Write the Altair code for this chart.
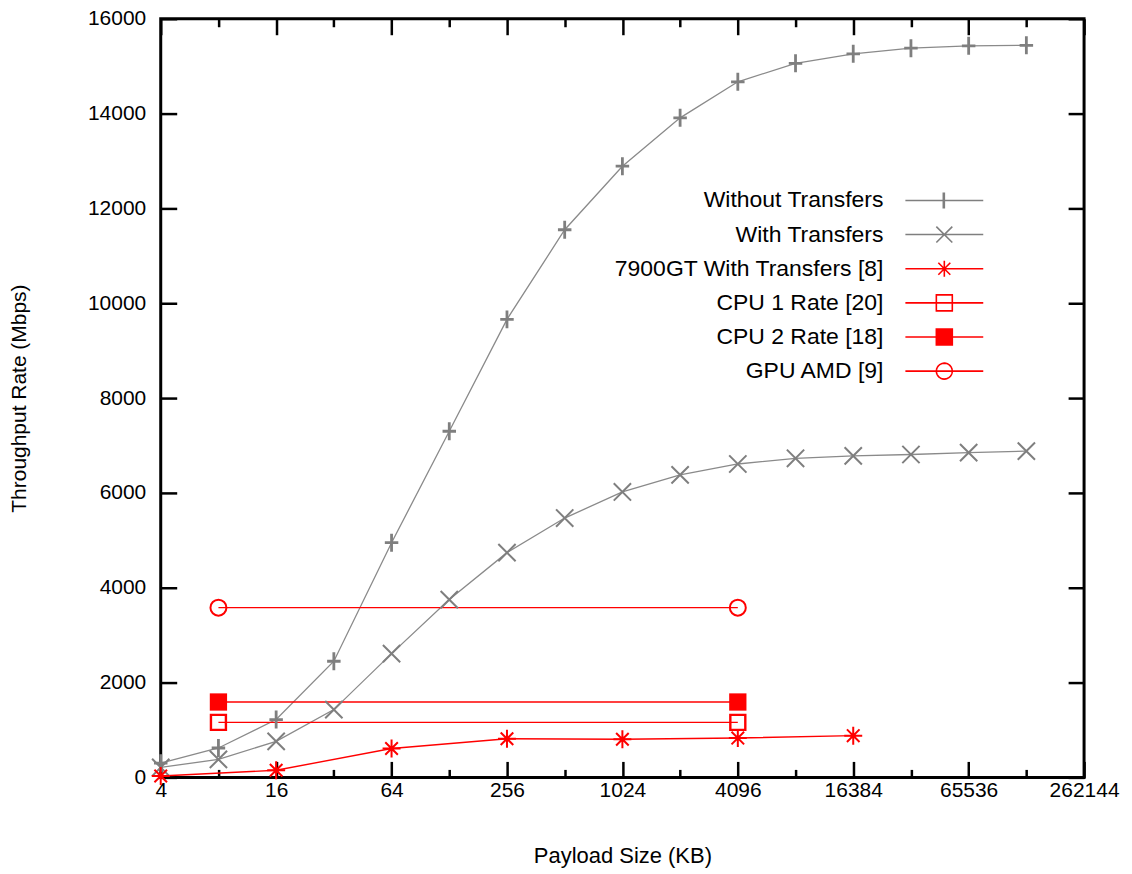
import math
import altair as alt
import pandas as pd

# ---------------- data ----------------
series_names = [
    "Without Transfers",
    "With Transfers",
    "7900GT With Transfers [8]",
    "CPU 1 Rate [20]",
    "CPU 2 Rate [18]",
    "GPU AMD [9]",
]

payload_kb = [4, 8, 16, 32, 64, 128, 256, 512, 1024, 2048, 4096, 8192, 16384, 32768, 65536, 131072]
without_transfers = [300, 620, 1220, 2450, 4950, 7300, 9660, 11550, 12890, 13910, 14670, 15060, 15260, 15380, 15430, 15440]
with_transfers = [210, 380, 760, 1430, 2610, 3750, 4740, 5470, 6020, 6380, 6610, 6730, 6780, 6810, 6850, 6880]

gt7900_x = [4, 16, 64, 256, 1024, 4096, 16384]
gt7900_y = [30, 150, 610, 815, 805, 830, 880]

ref_x = [8, 4096]
cpu1_y = [1160, 1160]
cpu2_y = [1590, 1590]
gpu_amd_y = [3580, 3580]

x_ticks = [2 ** n for n in range(2, 19)]
y_ticks = [0, 2000, 4000, 6000, 8000, 10000, 12000, 14000, 16000]

# ---------------- table ----------------
rows = []
for x, y in zip(payload_kb, without_transfers):
    rows.append((series_names[0], x, y))
for x, y in zip(payload_kb, with_transfers):
    rows.append((series_names[1], x, y))
for x, y in zip(gt7900_x, gt7900_y):
    rows.append((series_names[2], x, y))
for x, y in zip(ref_x, cpu1_y):
    rows.append((series_names[3], x, y))
for x, y in zip(ref_x, cpu2_y):
    rows.append((series_names[4], x, y))
for x, y in zip(ref_x, gpu_amd_y):
    rows.append((series_names[5], x, y))
df = pd.DataFrame(rows, columns=["series", "payload", "rate"])

# ---------------- styles ----------------
FONT = "Liberation Sans"
GRAY_LINE = "#8a8a8a"
GRAY_MARK = "#7f7f7f"
RED = "#ff0000"
series_colors = [GRAY_MARK, GRAY_MARK, RED, RED, RED, RED]

PLUS = "M-0.75,0H0.75M0,-1V1"
CROSS = "M-1,-1L1,1M-1,1L1,-1"
STAR = "M-1,0H1M0,-1V1M-0.7,-0.7L0.7,0.7M-0.7,0.7L0.7,-0.7"

# legend sample paths (unit = 11 px because symbolSize = 484)
U = 11.0


def u(px):
    return round(px / U, 4)


L = u(39)
LINE = f"M{-L},0H{L}"


def seg(x1, y1, x2, y2):
    return f"M{u(x1)},{u(y1)}L{u(x2)},{u(y2)}"


leg_plus = LINE + seg(0, -8, 0, 8) + seg(-1, -8, -1, 8)
leg_cross = LINE + seg(-8, -8, 8, 8) + seg(-8, 8, 8, -8)
leg_star = LINE + seg(0, -8, 0, 8) + seg(-6, -6, 6, 6) + seg(-6, 6, 6, -6)
e = 0.75
leg_osq = (LINE + seg(-8 - e, -8, 8 + e, -8) + seg(8, -8, 8, 8)
           + seg(8 + e, 8, -8 - e, 8) + seg(-8, 8, -8, -8))
leg_fsq = LINE + f"M{u(-8)},{u(-8)}H{u(8)}V{u(8)}H{u(-8)}Z"
circ = ""
n = 28
for k in range(n):
    a1 = 2 * math.pi * k / n
    a2 = 2 * math.pi * (k + 1.15) / n
    circ += seg(8 * math.cos(a1), 8 * math.sin(a1), 8 * math.cos(a2), 8 * math.sin(a2))
leg_circ = LINE + circ
legend_paths = [leg_plus, leg_cross, leg_star, leg_osq, leg_fsq, leg_circ]

xscale = alt.Scale(type="log", base=2, domain=[4, 262144], nice=False)
yscale = alt.Scale(domain=[0, 16000], nice=False, zero=True)

MAJOR = "round(log(datum.value)/LN2) % 2 == 0"
x_tick_size = {"expr": f"{MAJOR} ? -16 : -8"}
y_tick_size = {"expr": "-16"}

tick_style = dict(domain=False, grid=False, tickColor="black", tickWidth=2.5,
                  labels=False, labelPadding=0, title="")

# labelled axes (no ticks)
x_bottom_labels = alt.Axis(
    orient="bottom", values=x_ticks, ticks=False, domain=False, grid=False,
    labelExpr=f"{MAJOR} ? format(datum.value, 'd') : ''",
    labelFlush=False, labelOverlap=False, labelPadding=2, labelBaseline="top",
    labelFont=FONT, labelFontSize=21, labelColor="black",
    title="Payload Size (KB)", titleFont=FONT, titleFontSize=22,
    titleFontWeight="normal", titleColor="black", titlePadding=45,
)
y_left_labels = alt.Axis(
    orient="left", values=y_ticks, ticks=False, domain=False, grid=False, format="d",
    labelFlush=False, labelOverlap=False, labelPadding=15,
    labelFont=FONT, labelFontSize=21, labelColor="black",
    title="Throughput Rate (Mbps)", titleFont=FONT, titleFontSize=21,
    titleFontWeight="normal", titleColor="black", titlePadding=58,
)
# inward tick-only axes on all four sides
x_bottom_ticks = alt.Axis(orient="bottom", values=x_ticks, tickSize=x_tick_size, **tick_style)
x_top_ticks = alt.Axis(orient="top", values=x_ticks, tickSize=x_tick_size, **tick_style)
y_left_ticks = alt.Axis(orient="left", values=y_ticks, tickSize=y_tick_size, **tick_style)
y_right_ticks = alt.Axis(orient="right", values=y_ticks, tickSize=y_tick_size, **tick_style)

base = alt.Chart(df)

legend = alt.Legend(
    orient="none", legendX=773, legendY=170, direction="vertical", title=None,
    symbolSize=484, symbolStrokeWidth=1.6, symbolOpacity=1, symbolOffset=0,
    labelAlign="right", labelOffset={"expr": "-73"}, labelFont=FONT, labelFontSize=23,
    labelColor="black", labelLimit=600, rowPadding=10.2, padding=0,
)

legend_layer = base.transform_filter("false").mark_point(
    filled=False, fill=RED, strokeWidth=1.6, opacity=1
).encode(
    color=alt.Color("series:N", scale=alt.Scale(domain=series_names, range=series_colors), legend=legend),
    shape=alt.Shape("series:N", scale=alt.Scale(domain=series_names, range=legend_paths), legend=legend),
)

gray_lines = base.transform_filter(
    alt.FieldOneOfPredicate(field="series", oneOf=series_names[:2])
).mark_line(color=GRAY_LINE, strokeWidth=1.3).encode(
    x=alt.X("payload:Q", scale=xscale, axis=x_bottom_labels),
    y=alt.Y("rate:Q", scale=yscale, axis=y_left_labels),
    detail="series:N",
)
red_lines = base.transform_filter(
    alt.FieldOneOfPredicate(field="series", oneOf=series_names[2:])
).mark_line(color=RED, strokeWidth=1.4).encode(
    x=alt.X("payload:Q", scale=xscale, axis=x_bottom_ticks),
    y=alt.Y("rate:Q", scale=yscale, axis=y_left_ticks),
    detail="series:N",
)

marker_specs = [
    dict(shape=PLUS, size=324, strokeWidth=2.8, color=GRAY_MARK, filled=False),
    dict(shape=CROSS, size=300, strokeWidth=2.0, color=GRAY_MARK, filled=False),
    dict(shape=STAR, size=324, strokeWidth=2.0, color=RED, filled=False),
    dict(shape="square", size=225, strokeWidth=2.4, color=RED, filled=False),
    dict(shape="square", size=300, strokeWidth=0, color=RED, filled=True),
    dict(shape="circle", size=256, strokeWidth=2.0, color=RED, filled=False),
]
marker_axes = [(x_top_ticks, y_right_ticks)] + [(None, None)] * 5

marker_layers = []
for name, spec, (ax_x, ax_y) in zip(series_names, marker_specs, marker_axes):
    marker_layers.append(
        base.transform_filter(alt.datum.series == name)
        .mark_point(opacity=1, **spec)
        .encode(
            x=alt.X("payload:Q", scale=xscale, axis=ax_x),
            y=alt.Y("rate:Q", scale=yscale, axis=ax_y),
        )
    )

chart = alt.layer(legend_layer, gray_lines, red_lines, *marker_layers).resolve_axis(
    x="independent", y="independent"
).properties(
    width=925, height=760, autosize="none",
    padding={"left": 153, "top": 10, "right": 40, "bottom": 96},
    background="white",
).configure_view(stroke="black", strokeWidth=3)

chart.save("out.html", embed_options={"renderer": "svg", "actions": False})
